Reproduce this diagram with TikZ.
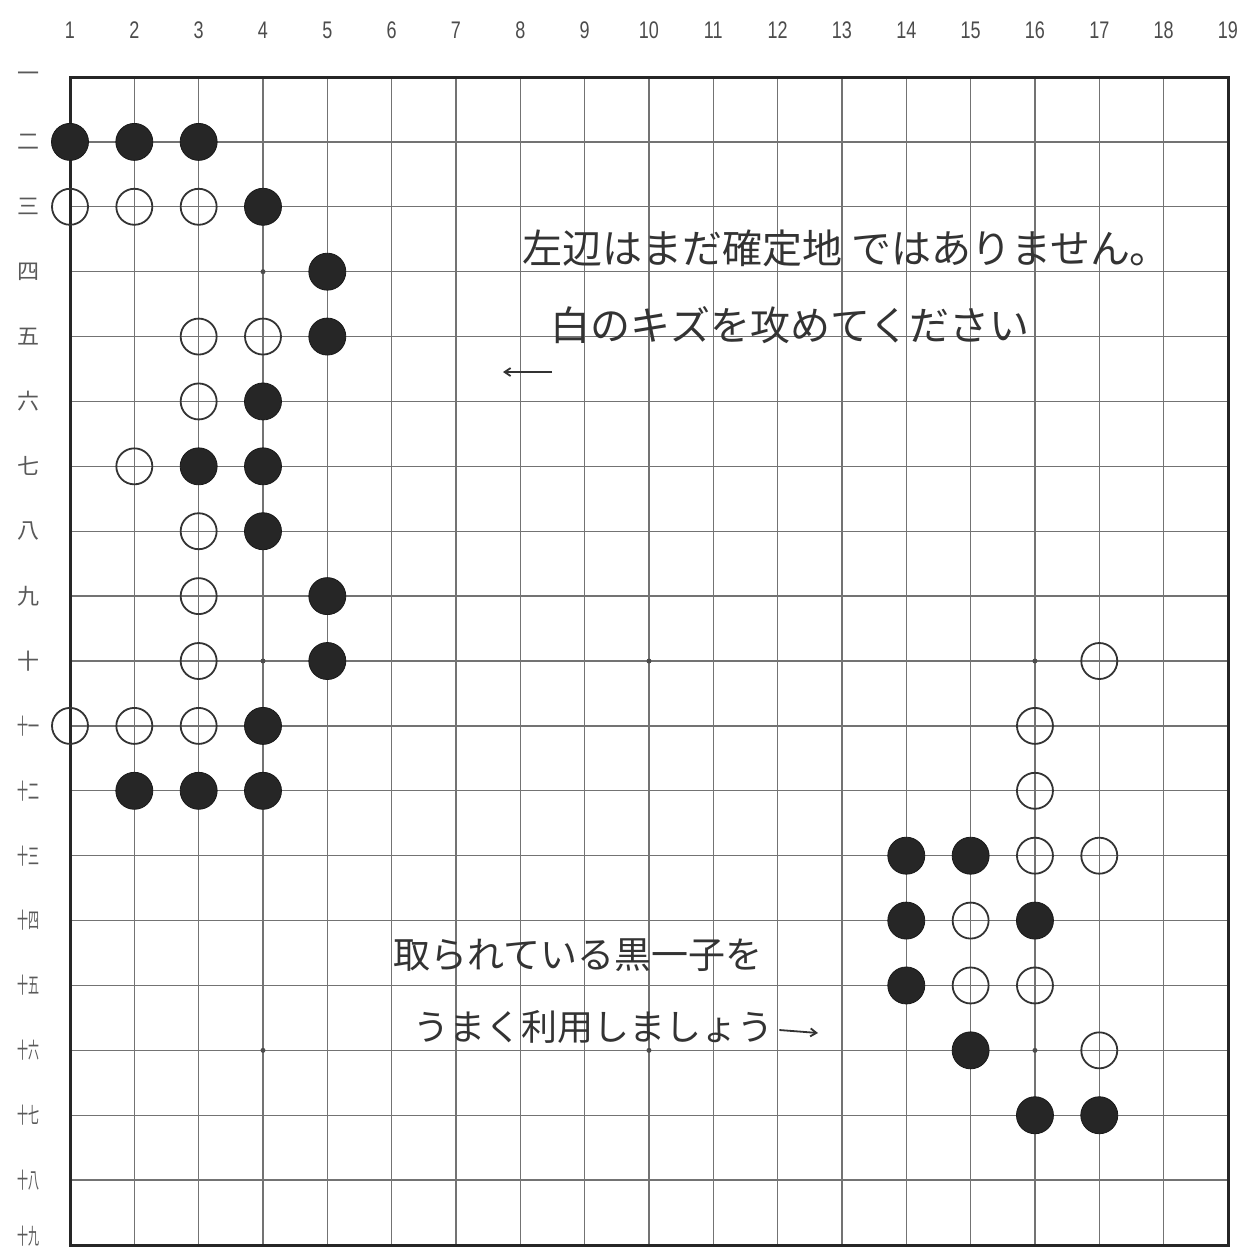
\documentclass[tikz,border=0pt]{standalone}
\usepackage{fontspec}
\usepackage{graphicx}
\setmainfont{Liberation Sans}
\newfontfamily\jp{Noto Sans CJK JP}
\usetikzlibrary{arrows.meta}
\tikzset{
  gridline/.style={draw=black!55, line width=1.3pt},
  border/.style={draw=black!85, line width=3pt},
  bstone/.style={circle, fill=black!85, draw=black!90, line width=0.8pt, minimum size=37pt, inner sep=0pt},
  wstone/.style={circle, draw=black!80, line width=1.8pt, minimum size=36pt, inner sep=0pt},
  starpt/.style={circle, fill=black!70, minimum size=5pt, inner sep=0pt},
  collab/.style={font=\fontsize{24}{24}\selectfont, text=black!70, xscale=0.75},
  rowlab/.style={font=\jp\fontsize{22}{22}\selectfont, text=black!65},
  note/.style={font=\jp\fontsize{#1}{#1}\selectfont, text=black!80, anchor=west, inner sep=0pt},
  penarrow/.style={draw=black!80, line width=1.8pt, -{Straight Barb[length=6pt,width=8pt]}}
}
\begin{document}
\begin{tikzpicture}[x=1pt,y=-1pt]
\useasboundingbox (0,0) rectangle (1242,1253);
\fill[white] (0,0) rectangle (1242,1253);
% grid
\foreach \i in {2,...,18} {
  \draw[gridline] ({70+64.33*(\i-1)},77) -- ({70+64.33*(\i-1)},1245);
  \draw[gridline] (70,{77+64.89*(\i-1)}) -- (1228,{77+64.89*(\i-1)});
}
\draw[border] (70,77) rectangle (1228,1245);
% star points
\foreach \c/\r in {4/4,4/10,4/16,10/10,10/16,16/10,16/16}
  \node[starpt] (s\c-\r) at ({70+64.33*(\c-1)},{77+64.89*(\r-1)}) {};
% column labels
\foreach \i in {1,...,19}
  \node[collab] (c\i) at ({70+64.33*(\i-1)},30) {\i};
% row labels
\foreach \i/\t in {1/一,2/二,3/三,4/四,5/五,6/六,7/七,8/八,9/九,10/十,
  11/十一,12/十二,13/十三,14/十四,15/十五,16/十六,17/十七,18/十八}
  \node[rowlab] (r\i) at (28,{77+64.89*(\i-1)}) {\ifnum\i>10 \scalebox{0.5}[1]{\t}\else\t\fi};
\node[rowlab] (r19) at (28,1236) {\scalebox{0.5}[1]{十九}};
% black stones
\foreach \c/\r in {1/2,2/2,3/2,4/3,5/4,5/5,4/6,3/7,4/7,4/8,5/9,5/10,4/11,2/12,3/12,4/12,
  14/13,15/13,14/14,16/14,14/15,15/16,16/17,17/17}
  \node[bstone] (b\c-\r) at ({70+64.33*(\c-1)},{77+64.89*(\r-1)}) {};
% white stones
\foreach \c/\r in {1/3,2/3,3/3,3/5,4/5,3/6,2/7,3/8,3/9,3/10,17/10,1/11,2/11,3/11,16/11,16/12,
  16/13,17/13,15/14,15/15,16/15,17/16}
  \node[wstone] (w\c-\r) at ({70+64.33*(\c-1)},{77+64.89*(\r-1)}) {};
% notes
\node[note=40] (n1) at (522,248) {左辺はまだ確定地 ではありません。};
\node[note=40] (n2) at (550,325) {白のキズを攻めてください};
\coordinate (a1s) at (552,372);
\coordinate (a1e) at (503,372);
\draw[penarrow] (a1s) -- (a1e);
\node[note=37] (n3) at (393,955) {取られている黒一子を};
\node[note=36] (n4) at (413,1027) {うまく利用しましょう};
\coordinate (a2e) at (818,1033);
\draw[penarrow] ([xshift=6pt,yshift=-3pt]n4.east) -- (a2e);
\end{tikzpicture}
\end{document}
